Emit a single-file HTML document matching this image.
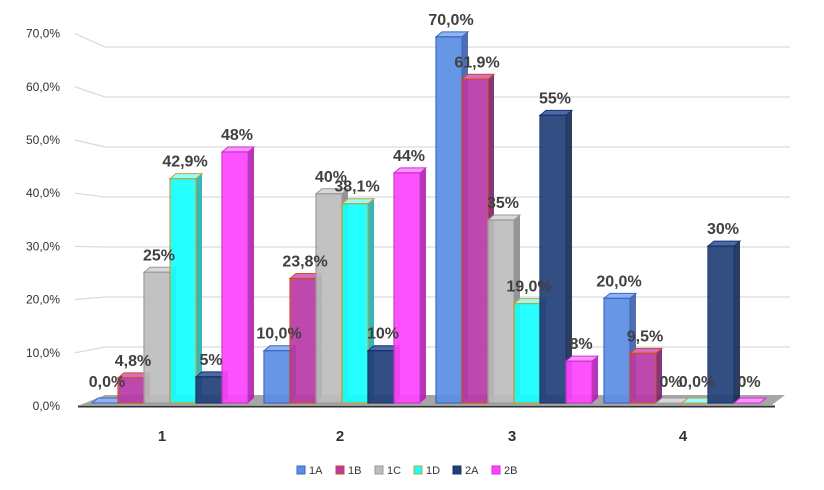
<!DOCTYPE html><html><head><meta charset="utf-8"><style>body{margin:0;background:#fff}svg{display:block}text{font-family:"Liberation Sans",sans-serif}</style></head><body>
<svg id="s" width="824" height="490" xmlns="http://www.w3.org/2000/svg"></svg>
<script>
const s=document.getElementById('s');let h='';
const labs=['0,0%','10,0%','20,0%','30,0%','40,0%','50,0%','60,0%','70,0%'];
for(let i=0;i<8;i++){const ly=406-i*53.2, gy=397-i*50;
 h+=`<text x="60" y="${ly+4}" font-size="12" fill="#333" text-anchor="end">${labs[i]}</text>`;
 if(i>0)h+=`<polyline points="75,${ly} 105,${gy} 790,${gy}" fill="none" stroke="#d9d9d9" stroke-width="1.2"/>`;}
h+=`<polygon points="80,405 105,395 785,395 772,405" fill="#a6a6a6"/><line x1="78" y1="406.5" x2="775" y2="406.5" stroke="#333" stroke-width="2"/>`;
const cols=[['#5b8ee6','#3a66c4','#8fb3f0','#3c5fa8'],['#b83aa8','#d04a20','#d070c8','#7a1f70'],['#bdbdbd','#9a9a9a','#d8d8d8','#8a8a8a'],['#14ffff','#c8a030','#90ffff','#20b0b0'],['#223f78','#17306a','#4a6aa8','#152850'],['#ff44ff','#cc33cc','#ff90ff','#b020b0']];
const data=[[0,4.8,25,42.9,5,48],[10,23.8,40,38.1,10,44],[70,61.9,35,19,55,8],[20,9.5,0,0,30,0]];
const lbl=[['0,0%','4,8%','25%','42,9%','5%','48%'],['10,0%','23,8%','40%','38,1%','10%','44%'],['70,0%','61,9%','35%','19,0%','55%','8%'],['20,0%','9,5%','0%','0,0%','30%','0%']];
const gx=[92,264,436,604];const bw=26,dx=6,dy=5,base=403,k=5.23;
let txt='';
for(let g=0;g<4;g++)for(let b=0;b<6;b++){const x=gx[g]+b*26,v=data[g][b],t=base-v*k,c=cols[b];
 h+=`<polygon points="${x+bw},${t} ${x+bw+dx},${t-dy} ${x+bw+dx},${base-dy} ${x+bw},${base}" fill="${c[3]}" opacity="0.9"/>`;
 h+=`<polygon points="${x},${t} ${x+dx},${t-dy} ${x+bw+dx},${t-dy} ${x+bw},${t}" fill="${c[2]}" stroke="${c[1]}" stroke-width="1"/>`;
 h+=`<rect x="${x}" y="${t}" width="${bw}" height="${base-t}" fill="${c[0]}" stroke="${c[1]}" stroke-width="1.3" opacity="0.92"/>`;
 let ly=t-12; if(v<1)ly=base-16;
 txt+=`<text x="${x+bw/2+2}" y="${ly}" font-size="16" font-weight="bold" fill="#404040" text-anchor="middle">${lbl[g][b]}</text>`;}
h+=txt;
['1','2','3','4'].forEach((c,i)=>h+=`<text x="${[162,340,512,683][i]}" y="441" font-size="15" font-weight="bold" fill="#333" text-anchor="middle">${c}</text>`);
const ln=['1A','1B','1C','1D','2A','2B'];
ln.forEach((n,i)=>{const x=297+i*39;h+=`<rect x="${x}" y="466" width="8" height="8" fill="${cols[i][0]}" stroke="${cols[i][1]}"/><text x="${x+12}" y="474" font-size="11" fill="#333">${n}</text>`;});
s.innerHTML=h;
</script></body></html>
